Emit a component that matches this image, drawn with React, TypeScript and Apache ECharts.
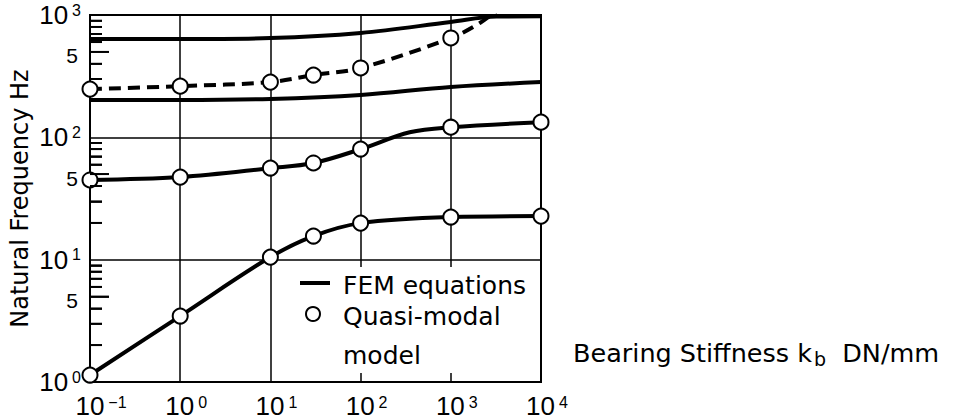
import React, { useEffect, useRef } from 'react';
import * as echarts from 'echarts';

// ---- tick data ----
const xTickExponents = [-1, 0, 1, 2, 3, 4];
const yTickExponents = [0, 1, 2, 3];
const yMinorTicks = [2, 3, 4, 5, 6, 7, 8, 9, 20, 30, 40, 50, 60, 70, 80, 90, 200, 300, 400, 500, 600, 700, 800, 900];
const yFiveLabels = [5, 50, 500];

// ---- FEM equations (solid curves) ----
const femAX = [0.1, 1, 10, 30, 100, 1000, 10000];
const femAY = [1.14, 3.46, 10.5, 15.6, 19.9, 22.3, 22.7];
const femBX = [0.1, 1, 10, 30, 100, 350, 1000, 10000];
const femBY = [44.8, 47.3, 56, 61.7, 80, 110, 121, 133];
const femCX = [0.1, 1, 10, 100, 1000, 10000];
const femCY = [202, 202, 206, 222, 258, 283];
const femDX = [0.1, 1, 10, 100, 1000, 3200, 10000];
const femDY = [637, 637, 648, 713, 877, 970, 975];

// ---- Quasi-modal model (circles) ----
const qmAX = [0.1, 1, 10, 30, 100, 1000, 10000];
const qmAY = [1.14, 3.46, 10.5, 15.6, 19.9, 22.3, 22.7];
const qmBX = [0.1, 1, 10, 30, 100, 1000, 10000];
const qmBY = [44.8, 47.3, 56.1, 61.7, 80.2, 121, 133];
const qmCX = [0.1, 1, 10, 30, 100, 1000];
const qmCY = [248, 262, 283, 323, 369, 649];
// dashed continuation of the quasi-modal mode beyond its last circle
const qmCTrailX = [2100, 3400];
const qmCTrailY = [860, 1120];

const NUM_FONT = '"Liberation Sans", Arial, sans-serif';
const TXT_FONT = '"DejaVu Sans", "Liberation Sans", sans-serif';

const zip = (xs: number[], ys: number[]) => xs.map((x, i) => [x, ys[i]]);

export default function App() {
  const ref = useRef<HTMLDivElement>(null);
  useEffect(() => {
    if (!ref.current) return;
    const chart = echarts.init(ref.current, undefined, { renderer: 'svg' });
    const femLine = (name: string, xs: number[], ys: number[]) => ({
      name,
      type: 'line',
      data: zip(xs, ys),
      smooth: 0.35,
      symbol: 'none',
      lineStyle: { color: '#000', width: 4 },
      z: 3,
    });
    const qmScatter = (name: string, xs: number[], ys: number[]) => ({
      name,
      type: 'scatter',
      data: zip(xs, ys),
      symbol: 'circle',
      symbolSize: 15,
      itemStyle: { color: '#fff', borderColor: '#000', borderWidth: 2, opacity: 1 },
      z: 6,
    });
    const series: any[] = [
      femLine('FEM equations', femAX, femAY),
      femLine('FEM equations B', femBX, femBY),
      femLine('FEM equations C', femCX, femCY),
      femLine('FEM equations D', femDX, femDY),
      {
        name: 'Quasi-modal dashed',
        type: 'line',
        data: zip(qmCX.concat(qmCTrailX), qmCY.concat(qmCTrailY)),
        smooth: 0.35,
        symbol: 'none',
        lineStyle: { color: '#000', width: 4, type: [12, 7] },
        z: 3,
      },
      qmScatter('Quasi-modal model', qmAX, qmAY),
      qmScatter('Quasi-modal model B', qmBX, qmBY),
      qmScatter('Quasi-modal model C', qmCX, qmCY),
    ];
    const option: any = {
      animation: false,
      grid: { left: 90, top: 15, width: 451, height: 367, show: true, borderColor: '#000', borderWidth: 2 },
      xAxis: {
        type: 'log',
        logBase: 10,
        min: 0.1,
        max: 10000,
        splitNumber: 5,
        name: '{n|Bearing Stiffness k}{sub|b}{n|  DN/mm}',
        nameLocation: 'end',
        nameGap: 32,
        nameTextStyle: {
          color: '#000',
          align: 'left',
          verticalAlign: 'middle',
          padding: [0, 0, 58, 0],
          rich: {
            n: { fontSize: 25.5, fontFamily: TXT_FONT, color: '#000' },
            sub: { fontSize: 19, fontFamily: TXT_FONT, color: '#000', padding: [12, 0, 0, 2] },
          },
        },
        axisLine: { show: true, lineStyle: { color: '#000', width: 2 } },
        axisTick: { show: false },
        splitLine: { show: true, lineStyle: { color: '#000', width: 1.5 } },
        axisLabel: {
          margin: 12,
          color: '#000',
          formatter: (v: number) => {
            const e = Math.round(Math.log10(v));
            if (xTickExponents.indexOf(e) < 0) return '';
            const s = e < 0 ? '\u2212' + Math.abs(e) : String(e);
            const pad = e < 0 ? 'pw' : 'pn';
            return `{${pad}|}{b|10}{s|${s}}`;
          },
          rich: {
            b: { fontSize: 26, lineHeight: 24, fontFamily: NUM_FONT, color: '#000' },
            s: { fontSize: 16, lineHeight: 16, fontFamily: NUM_FONT, color: '#000', padding: [0, 0, 8, 4] },
            pw: { width: 22, lineHeight: 24 },
            pn: { width: 12, lineHeight: 24 },
          },
        },
      },
      yAxis: {
        type: 'log',
        logBase: 10,
        min: 1,
        max: 1000,
        splitNumber: 3,
        name: 'Natural Frequency Hz',
        nameLocation: 'middle',
        nameGap: 58,
        nameTextStyle: { fontSize: 24, fontFamily: TXT_FONT, color: '#000' },
        axisLine: { show: true, lineStyle: { color: '#000', width: 2 } },
        axisTick: { show: false },
        splitLine: { show: true, lineStyle: { color: '#000', width: 1.5 } },
        axisLabel: {
          margin: 9,
          color: '#000',
          formatter: (v: number) => {
            const e = Math.round(Math.log10(v));
            if (yTickExponents.indexOf(e) < 0) return '';
            return `{b|10}{s|${e}}`;
          },
          rich: {
            b: { fontSize: 26, fontFamily: NUM_FONT, color: '#000' },
            s: { fontSize: 16, fontFamily: NUM_FONT, color: '#000', padding: [0, 0, 10, 4] },
          },
        },
      },
      series,
    };
    chart.setOption(option);

    // y-axis minor ticks (2..9 per decade) placed through the axis scale
    const tickGraphics: any[] = [];
    const tickLines: any[] = [];
    yMinorTicks.forEach((v) => {
      const p = chart.convertToPixel({ xAxisIndex: 0, yAxisIndex: 0 }, [0.1, v]) as number[];
      const isFive = yFiveLabels.indexOf(v) >= 0;
      const len = isFive ? 19 : 12;
      tickGraphics.push({
        type: 'line',
        shape: { x1: p[0], y1: p[1], x2: p[0] + len, y2: p[1] },
        style: { stroke: '#000', lineWidth: 1.8 },
        zlevel: 3,
        z: 500,
      });
      const end = chart.convertFromPixel({ xAxisIndex: 0, yAxisIndex: 0 }, [p[0] + len, p[1]]) as number[];
      tickLines.push({ coords: [[0.1, v], [end[0], v]] });
      if (isFive) {
        tickGraphics.push({
          type: 'text',
          x: p[0] - 12,
          y: p[1] + 4,
          style: {
            text: '5',
            fill: '#000',
            fontSize: 21,
            fontFamily: NUM_FONT,
            align: 'right',
            verticalAlign: 'middle',
          },
          zlevel: 3,
          z: 500,
        });
      }
    });

    const legendGraphics: any[] = [
      { type: 'rect', shape: { x: 285, y: 267, width: 254, height: 106 }, style: { fill: '#fff' }, z: 100 },
      { type: 'line', shape: { x1: 300, y1: 283, x2: 330, y2: 283 }, style: { stroke: '#000', lineWidth: 4 }, z: 101 },
      { type: 'circle', shape: { cx: 313, cy: 314, r: 7 }, style: { fill: '#fff', stroke: '#000', lineWidth: 2 }, z: 101 },
      {
        type: 'text', x: 343, y: 285, z: 101,
        style: { text: 'FEM equations', fill: '#000', fontSize: 25, fontFamily: TXT_FONT, verticalAlign: 'middle' },
      },
      {
        type: 'text', x: 343, y: 316, z: 101,
        style: { text: 'Quasi-modal', fill: '#000', fontSize: 25, fontFamily: TXT_FONT, verticalAlign: 'middle' },
      },
      {
        type: 'text', x: 343, y: 355, z: 101,
        style: { text: 'model', fill: '#000', fontSize: 25, fontFamily: TXT_FONT, verticalAlign: 'middle' },
      },
    ];

    chart.setOption({
      series: [
        ...series,
        {
          name: 'minor ticks',
          type: 'lines',
          coordinateSystem: 'cartesian2d',
          data: tickLines,
          symbol: 'none',
          lineStyle: { color: '#000', width: 1.8, opacity: 1 },
          zlevel: 3,
          z: 500,
          silent: true,
        },
      ],
      graphic: [...tickGraphics, ...legendGraphics],
    });
    return () => chart.dispose();
  }, []);
  return <div ref={ref} style={{ position: 'fixed', left: 0, top: 0, width: 955, height: 420, background: '#fff' }} />;
}
